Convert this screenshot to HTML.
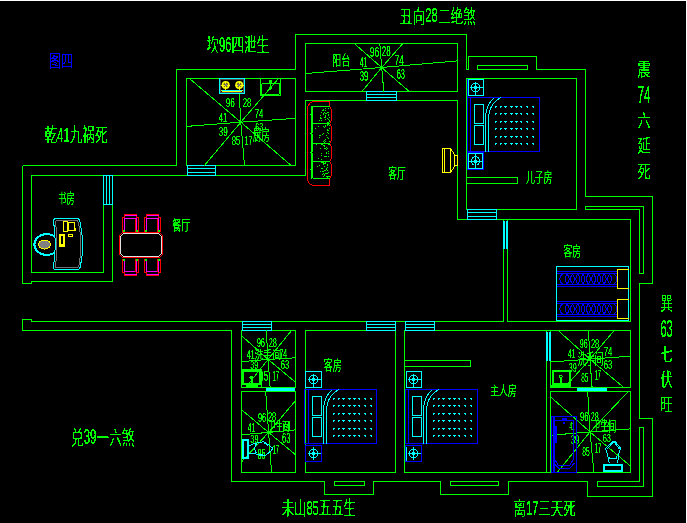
<!DOCTYPE html>
<html lang="zh"><head><meta charset="utf-8"><title>图四</title>
<style>
html,body{margin:0;padding:0;background:#000;overflow:hidden}
svg{display:block;font-family:"Liberation Sans","Noto Sans CJK SC",sans-serif}
</style></head><body>
<svg width="687" height="523" viewBox="0 0 687 523" shape-rendering="crispEdges">
<defs><filter id="th" x="0" y="0" width="687" height="523" filterUnits="userSpaceOnUse" color-interpolation-filters="sRGB"><feComponentTransfer><feFuncA type="discrete" tableValues="0 0 1 1 1 1"/></feComponentTransfer></filter><filter id="th2" x="0" y="0" width="687" height="523" filterUnits="userSpaceOnUse" color-interpolation-filters="sRGB"><feComponentTransfer><feFuncA type="table" tableValues="0 0.1 1 1 1"/></feComponentTransfer></filter></defs>
<rect x="0" y="0" width="687" height="523" fill="#000"/>
<rect x="0" y="0" width="687" height="1" fill="#fff"/>
<rect x="686" y="0" width="1" height="523" fill="#fff"/>
<g id="walls">
<path d="M22.5 165.5 L176.5 165.5 L176.5 69.5 L295.5 69.5" stroke="#00ff00" stroke-width="1" fill="none" />
<path d="M295.5 69.5 L295.5 34.5 L466.5 34.5 L466.5 69.5 L468.5 69.5 L468.5 56.5 L536.5 56.5 L536.5 69.5 L585.5 69.5 L585.5 196.5 L652.5 196.5 L652.5 283.5 L639.5 283.5 L639.5 418.5 L652.5 418.5 L652.5 496.5 L587.5 496.5 L587.5 481.5 L508.5 481.5 L508.5 494.5 L440.5 494.5 L440.5 481.5 L373.5 481.5 L373.5 494.5 L324.5 494.5 L324.5 481.5 L231.5 481.5 L231.5 330.5 L22.5 330.5 L22.5 319.5 L31.5 319.5 L31.5 321.5 L503.5 321.5 L503.5 219.5" stroke="#00ff00" stroke-width="1" fill="none" />
<path d="M22.5 165.5 L22.5 283.5 L31.5 283.5 L31.5 281.5 L112.5 281.5 L112.5 175.5" stroke="#00ff00" stroke-width="1" fill="none" />
<path d="M630.5 321.5 L630.5 219.5 L457.5 219.5 L457.5 100.5 L305.5 100.5 L305.5 175.5 L31.5 175.5 L31.5 272.5 L103.5 272.5 L103.5 175.5" stroke="#00ff00" stroke-width="1" fill="none" />
<rect x="186.5" y="78.5" width="109" height="87" stroke="#00ff00" stroke-width="1" fill="none"/>
<rect x="305.5" y="43.5" width="152" height="48" stroke="#00ff00" stroke-width="1" fill="none"/>
<rect x="466.5" y="78.5" width="110" height="131" stroke="#00ff00" stroke-width="1" fill="none"/>
<rect x="477.5" y="65.5" width="50" height="4" stroke="#00ff00" stroke-width="1" fill="none"/>
<rect x="466.5" y="177.5" width="51" height="6" stroke="#00ff00" stroke-width="1" fill="none"/>
<path d="M507.5 219.5 L507.5 321.5 L630.5 321.5" stroke="#00ff00" stroke-width="1" fill="none" />
<path d="M585.5 206.5 L643.5 206.5 L643.5 273.5 L639.5 273.5 L639.5 209.5 L585.5 209.5 Z" stroke="#00ff00" stroke-width="1" fill="none" />
<path d="M639.5 427.5 L643.5 427.5 L643.5 486.5 L597.5 486.5 L597.5 481.5 L639.5 481.5 Z" stroke="#00ff00" stroke-width="1" fill="none" />
<rect x="241.5" y="330.5" width="54" height="57" stroke="#00ff00" stroke-width="1" fill="none"/>
<rect x="241.5" y="391.5" width="54" height="81" stroke="#00ff00" stroke-width="1" fill="none"/>
<rect x="305.5" y="330.5" width="90" height="142" stroke="#00ff00" stroke-width="1" fill="none"/>
<path d="M630.5 330.5 L404.5 330.5 L404.5 472.5 L630.5 472.5" stroke="#00ff00" stroke-width="1" fill="none" />
<line x1="546.5" y1="330.5" x2="546.5" y2="472.5" stroke="#00ff00" stroke-width="1"/>
<rect x="550.5" y="330.5" width="80" height="57" stroke="#00ff00" stroke-width="1" fill="none"/>
<rect x="550.5" y="391.5" width="80" height="81" stroke="#00ff00" stroke-width="1" fill="none"/>
<rect x="404.5" y="360.5" width="66" height="6" stroke="#00ff00" stroke-width="1" fill="none"/>
<rect x="334.5" y="481.5" width="30" height="4" stroke="#00ff00" stroke-width="1" fill="none"/>
<rect x="450.5" y="481.5" width="48" height="4" stroke="#00ff00" stroke-width="1" fill="none"/>
</g>
<g id="windows">
<rect x="187.5" y="165.5" width="28" height="10" stroke="#00ffff" stroke-width="1" fill="none"/>
<line x1="187.5" y1="168.5" x2="215.5" y2="168.5" stroke="#00ffff" stroke-width="1"/>
<line x1="187.5" y1="172.5" x2="215.5" y2="172.5" stroke="#00ffff" stroke-width="1"/>
<rect x="366.5" y="91.5" width="30" height="9" stroke="#00ffff" stroke-width="1" fill="none"/>
<line x1="366.5" y1="94.5" x2="396.5" y2="94.5" stroke="#00ffff" stroke-width="1"/>
<line x1="366.5" y1="97.5" x2="396.5" y2="97.5" stroke="#00ffff" stroke-width="1"/>
<rect x="103.5" y="175.5" width="9" height="29" stroke="#00ffff" stroke-width="1" fill="none"/>
<line x1="106.5" y1="175.5" x2="106.5" y2="204.5" stroke="#00ffff" stroke-width="1"/>
<line x1="109.5" y1="175.5" x2="109.5" y2="204.5" stroke="#00ffff" stroke-width="1"/>
<rect x="467.5" y="209.5" width="29" height="10" stroke="#00ffff" stroke-width="1" fill="none"/>
<line x1="467.5" y1="212.5" x2="496.5" y2="212.5" stroke="#00ffff" stroke-width="1"/>
<line x1="467.5" y1="216.5" x2="496.5" y2="216.5" stroke="#00ffff" stroke-width="1"/>
<line x1="503.5" y1="220.5" x2="503.5" y2="248.5" stroke="#00ffff" stroke-width="1"/>
<line x1="504.5" y1="220.5" x2="504.5" y2="248.5" stroke="#00ffff" stroke-width="1"/>
<line x1="506.5" y1="220.5" x2="506.5" y2="248.5" stroke="#00ffff" stroke-width="1"/>
<line x1="507.5" y1="220.5" x2="507.5" y2="248.5" stroke="#00ffff" stroke-width="1"/>
<rect x="242.5" y="321.5" width="29" height="9" stroke="#00ffff" stroke-width="1" fill="none"/>
<line x1="242.5" y1="324.5" x2="271.5" y2="324.5" stroke="#00ffff" stroke-width="1"/>
<line x1="242.5" y1="327.5" x2="271.5" y2="327.5" stroke="#00ffff" stroke-width="1"/>
<rect x="366.5" y="321.5" width="29" height="9" stroke="#00ffff" stroke-width="1" fill="none"/>
<line x1="366.5" y1="324.5" x2="395.5" y2="324.5" stroke="#00ffff" stroke-width="1"/>
<line x1="366.5" y1="327.5" x2="395.5" y2="327.5" stroke="#00ffff" stroke-width="1"/>
<rect x="405.5" y="321.5" width="29" height="9" stroke="#00ffff" stroke-width="1" fill="none"/>
<line x1="405.5" y1="324.5" x2="434.5" y2="324.5" stroke="#00ffff" stroke-width="1"/>
<line x1="405.5" y1="327.5" x2="434.5" y2="327.5" stroke="#00ffff" stroke-width="1"/>
<line x1="546.5" y1="331.5" x2="546.5" y2="360.5" stroke="#00ffff" stroke-width="1"/>
<line x1="547.5" y1="331.5" x2="547.5" y2="360.5" stroke="#00ffff" stroke-width="1"/>
<line x1="549.5" y1="331.5" x2="549.5" y2="360.5" stroke="#00ffff" stroke-width="1"/>
<line x1="550.5" y1="331.5" x2="550.5" y2="360.5" stroke="#00ffff" stroke-width="1"/>
<rect x="266.5" y="388.5" width="28" height="2" stroke="#00ffff" stroke-width="1" fill="#00ffff"/>
<rect x="577.5" y="388.5" width="29" height="2" stroke="#00ffff" stroke-width="1" fill="#00ffff"/>
</g>
<g id="compass">
<line x1="240.8" y1="122.2" x2="189.5" y2="78.5" stroke="#00ff00" stroke-width="1"/>
<line x1="240.8" y1="122.2" x2="239.2" y2="94" stroke="#00ff00" stroke-width="1"/>
<line x1="240.8" y1="122.2" x2="278.5" y2="78.5" stroke="#00ff00" stroke-width="1"/>
<line x1="240.8" y1="122.2" x2="295.5" y2="118.3" stroke="#00ff00" stroke-width="1"/>
<line x1="240.8" y1="122.2" x2="291.2" y2="165.5" stroke="#00ff00" stroke-width="1"/>
<line x1="240.8" y1="122.2" x2="244.5" y2="165.5" stroke="#00ff00" stroke-width="1"/>
<line x1="240.8" y1="122.2" x2="204.4" y2="165.5" stroke="#00ff00" stroke-width="1"/>
<line x1="240.8" y1="122.2" x2="186.5" y2="126.4" stroke="#00ff00" stroke-width="1"/>
<line x1="381.7" y1="67.5" x2="354.2" y2="43.5" stroke="#00ff00" stroke-width="1"/>
<line x1="381.7" y1="67.5" x2="379.8" y2="43.5" stroke="#00ff00" stroke-width="1"/>
<line x1="381.7" y1="67.5" x2="402.9" y2="43.5" stroke="#00ff00" stroke-width="1"/>
<line x1="381.7" y1="67.5" x2="457.5" y2="60.9" stroke="#00ff00" stroke-width="1"/>
<line x1="381.7" y1="67.5" x2="409.2" y2="91.5" stroke="#00ff00" stroke-width="1"/>
<line x1="381.7" y1="67.5" x2="383.8" y2="91.5" stroke="#00ff00" stroke-width="1"/>
<line x1="381.7" y1="67.5" x2="362" y2="91.5" stroke="#00ff00" stroke-width="1"/>
<line x1="381.7" y1="67.5" x2="305.5" y2="73.5" stroke="#00ff00" stroke-width="1"/>
<line x1="268.1" y1="359.4" x2="241.5" y2="335.6" stroke="#00ff00" stroke-width="1"/>
<line x1="268.1" y1="359.4" x2="266.2" y2="330.5" stroke="#00ff00" stroke-width="1"/>
<line x1="268.1" y1="359.4" x2="291.5" y2="330.5" stroke="#00ff00" stroke-width="1"/>
<line x1="268.1" y1="359.4" x2="295.5" y2="357.8" stroke="#00ff00" stroke-width="1"/>
<line x1="268.1" y1="359.4" x2="295.5" y2="382.3" stroke="#00ff00" stroke-width="1"/>
<line x1="268.1" y1="359.4" x2="270.1" y2="387.5" stroke="#00ff00" stroke-width="1"/>
<line x1="268.1" y1="359.4" x2="245.6" y2="387.5" stroke="#00ff00" stroke-width="1"/>
<line x1="268.1" y1="359.4" x2="241.5" y2="361.7" stroke="#00ff00" stroke-width="1"/>
<line x1="268.6" y1="432.4" x2="241.5" y2="409.8" stroke="#00ff00" stroke-width="1"/>
<line x1="268.6" y1="432.4" x2="265.7" y2="391.5" stroke="#00ff00" stroke-width="1"/>
<line x1="268.6" y1="432.4" x2="295.5" y2="400.6" stroke="#00ff00" stroke-width="1"/>
<line x1="268.6" y1="432.4" x2="295.5" y2="429.9" stroke="#00ff00" stroke-width="1"/>
<line x1="268.6" y1="432.4" x2="295.5" y2="454.8" stroke="#00ff00" stroke-width="1"/>
<line x1="268.6" y1="432.4" x2="271.6" y2="472.5" stroke="#00ff00" stroke-width="1"/>
<line x1="268.6" y1="432.4" x2="241.5" y2="461.9" stroke="#00ff00" stroke-width="1"/>
<line x1="268.6" y1="432.4" x2="241.5" y2="434.7" stroke="#00ff00" stroke-width="1"/>
<line x1="589.9" y1="359.1" x2="558.2" y2="330.5" stroke="#00ff00" stroke-width="1"/>
<line x1="589.9" y1="359.1" x2="588.5" y2="330.5" stroke="#00ff00" stroke-width="1"/>
<line x1="589.9" y1="359.1" x2="614.2" y2="330.5" stroke="#00ff00" stroke-width="1"/>
<line x1="589.9" y1="359.1" x2="630.5" y2="356.2" stroke="#00ff00" stroke-width="1"/>
<line x1="589.9" y1="359.1" x2="623.7" y2="387.5" stroke="#00ff00" stroke-width="1"/>
<line x1="589.9" y1="359.1" x2="592.1" y2="387.5" stroke="#00ff00" stroke-width="1"/>
<line x1="589.9" y1="359.1" x2="564.7" y2="387.5" stroke="#00ff00" stroke-width="1"/>
<line x1="589.9" y1="359.1" x2="550.5" y2="362" stroke="#00ff00" stroke-width="1"/>
<line x1="590" y1="431.9" x2="551" y2="397.2" stroke="#00ff00" stroke-width="1"/>
<line x1="590" y1="431.9" x2="587.7" y2="391.5" stroke="#00ff00" stroke-width="1"/>
<line x1="590" y1="431.9" x2="628.3" y2="391.5" stroke="#00ff00" stroke-width="1"/>
<line x1="590" y1="431.9" x2="630.5" y2="428.9" stroke="#00ff00" stroke-width="1"/>
<line x1="590" y1="431.9" x2="630.5" y2="466.1" stroke="#00ff00" stroke-width="1"/>
<line x1="590" y1="431.9" x2="593.9" y2="472.5" stroke="#00ff00" stroke-width="1"/>
<line x1="590" y1="431.9" x2="557.2" y2="472.5" stroke="#00ff00" stroke-width="1"/>
<line x1="590" y1="431.9" x2="550.5" y2="435.3" stroke="#00ff00" stroke-width="1"/>
</g>
<g id="nums" filter="url(#th2)">
<text transform="translate(225.7 107) scale(0.6820 1.0880)" font-size="12" fill="#00ff00">96</text>
<text transform="translate(242.7 107) scale(0.6445 1.0880)" font-size="12" fill="#00ff00">28</text>
<text transform="translate(218.7 121.6) scale(0.6445 1.1111)" font-size="12" fill="#00ff00">41</text>
<text transform="translate(254.7 118) scale(0.6445 1.0995)" font-size="12" fill="#00ff00">74</text>
<text transform="translate(218.7 136) scale(0.6820 1.0880)" font-size="12" fill="#00ff00">39</text>
<text transform="translate(255.3 131.4) scale(0.5995 0.9722)" font-size="12" fill="#00ff00">63</text>
<text transform="translate(231.7 144.5) scale(0.6445 1.1343)" font-size="12" fill="#00ff00">85</text>
<text transform="translate(244.7 144.5) scale(0.5695 1.1343)" font-size="12" fill="#00ff00">17</text>
<text transform="translate(369.7 57) scale(0.7194 1.1574)" font-size="12" fill="#00ff00">96</text>
<text transform="translate(381.7 56) scale(0.6670 1.1574)" font-size="12" fill="#00ff00">28</text>
<text transform="translate(359.7 66.7) scale(0.5695 1.2384)" font-size="12" fill="#00ff00">41</text>
<text transform="translate(394.7 64.6) scale(0.6745 1.2269)" font-size="12" fill="#00ff00">74</text>
<text transform="translate(359.7 81) scale(0.6445 1.2037)" font-size="12" fill="#00ff00">39</text>
<text transform="translate(396.7 79.3) scale(0.6220 1.2153)" font-size="12" fill="#00ff00">63</text>
<text transform="translate(256.7 347.4) scale(0.6220 1.0069)" font-size="12" fill="#00ff00">96</text>
<text transform="translate(268.7 347.4) scale(0.6145 1.0069)" font-size="12" fill="#00ff00">28</text>
<text transform="translate(246.7 358.6) scale(0.5920 1.0648)" font-size="12" fill="#00ff00">41</text>
<text transform="translate(279.4 358) scale(0.5845 1.0417)" font-size="12" fill="#00ff00">74</text>
<text transform="translate(250.3 369.3) scale(0.5845 0.8796)" font-size="12" fill="#00ff00">39</text>
<text transform="translate(280.7 368.5) scale(0.6370 1.0532)" font-size="12" fill="#00ff00">63</text>
<text transform="translate(259.1 380.8) scale(0.6894 1.1574)" font-size="12" fill="#00ff00">85</text>
<text transform="translate(272.5 380.8) scale(0.4721 1.1574)" font-size="12" fill="#00ff00">17</text>
<text transform="translate(257.9 422.2) scale(0.6220 0.9954)" font-size="12" fill="#00ff00">96</text>
<text transform="translate(267.9 421.3) scale(0.6145 0.9954)" font-size="12" fill="#00ff00">28</text>
<text transform="translate(247.8 432.4) scale(0.5471 1.0648)" font-size="12" fill="#00ff00">41</text>
<text transform="translate(282.2 430) scale(0.6220 1.0069)" font-size="12" fill="#00ff00">74</text>
<text transform="translate(250.3 442.7) scale(0.6145 0.8912)" font-size="12" fill="#00ff00">39</text>
<text transform="translate(281.9 443.3) scale(0.6445 1.1806)" font-size="12" fill="#00ff00">63</text>
<text transform="translate(257.4 459.2) scale(0.6145 1.1806)" font-size="12" fill="#00ff00">85</text>
<text transform="translate(272.7 453.8) scale(0.4721 1.1111)" font-size="12" fill="#00ff00">17</text>
<text transform="translate(579.7 347.5) scale(0.5920 1.0185)" font-size="12" fill="#00ff00">96</text>
<text transform="translate(590.9 347.5) scale(0.6295 1.0185)" font-size="12" fill="#00ff00">28</text>
<text transform="translate(568.1 358.1) scale(0.5396 1.0069)" font-size="12" fill="#00ff00">41</text>
<text transform="translate(603.7 356.2) scale(0.6445 1.0995)" font-size="12" fill="#00ff00">74</text>
<text transform="translate(568.7 372.2) scale(0.5995 1.0069)" font-size="12" fill="#00ff00">39</text>
<text transform="translate(603.7 369.3) scale(0.6445 1.1227)" font-size="12" fill="#00ff00">63</text>
<text transform="translate(581.2 382.4) scale(0.5321 1.1227)" font-size="12" fill="#00ff00">85</text>
<text transform="translate(594.7 379.5) scale(0.4496 1.1806)" font-size="12" fill="#00ff00">17</text>
<text transform="translate(579.9 420.9) scale(0.6445 1.0648)" font-size="12" fill="#00ff00">96</text>
<text transform="translate(590.7 420.9) scale(0.6070 1.0648)" font-size="12" fill="#00ff00">28</text>
<text transform="translate(569.5 430) scale(0.3897 0.9259)" font-size="12" fill="#00ff00">41</text>
<text transform="translate(602.7 429) scale(0.6445 1.0417)" font-size="12" fill="#00ff00">74</text>
<text transform="translate(602.7 441.5) scale(0.6220 0.8681)" font-size="12" fill="#00ff00">63</text>
<text transform="translate(570.7 443.8) scale(0.6445 1.0648)" font-size="12" fill="#00ff00">39</text>
<text transform="translate(582.2 456.4) scale(0.5546 1.0648)" font-size="12" fill="#00ff00">85</text>
<text transform="translate(594.7 453) scale(0.4796 1.1574)" font-size="12" fill="#00ff00">17</text>
</g>
<g id="labels" filter="url(#th)">
<text transform="translate(49.12 66.78) scale(0.7526 1.0870)" font-size="16" fill="#0000ff" font-weight="350">图四</text>
<text transform="translate(206.50 52.43) scale(0.7816 1.2228)" font-size="16" fill="#00ff00" font-weight="350">坎</text>
<text transform="translate(219.00 52.36) scale(0.7028 1.3500)" font-size="16" fill="#00ff00" font-weight="350">96</text>
<text transform="translate(231.51 52.43) scale(0.7816 1.2228)" font-size="16" fill="#00ff00" font-weight="350">四泄生</text>
<text transform="translate(399.79 22.52) scale(0.7942 1.1413)" font-size="16" fill="#00ff00" font-weight="350">丑向</text>
<text transform="translate(425.21 22.46) scale(0.7142 1.2600)" font-size="16" fill="#00ff00" font-weight="350">28</text>
<text transform="translate(437.91 22.52) scale(0.7942 1.1413)" font-size="16" fill="#00ff00" font-weight="350">二绝煞</text>
<text transform="translate(44.49 142.17) scale(0.7892 1.1889)" font-size="16" fill="#00ff00" font-weight="350">乾</text>
<text transform="translate(57.12 142.10) scale(0.7097 1.3125)" font-size="16" fill="#00ff00" font-weight="350">41</text>
<text transform="translate(69.75 142.17) scale(0.7892 1.1889)" font-size="16" fill="#00ff00" font-weight="350">九祸死</text>
<text transform="translate(70.89 444.52) scale(0.7968 1.2296)" font-size="16" fill="#00ff00" font-weight="350">兑</text>
<text transform="translate(83.64 444.45) scale(0.7166 1.3575)" font-size="16" fill="#00ff00" font-weight="350">39</text>
<text transform="translate(96.39 444.52) scale(0.7968 1.2296)" font-size="16" fill="#00ff00" font-weight="350">一六煞</text>
<text transform="translate(281.71 515.37) scale(0.7731 1.1889)" font-size="16" fill="#00ff00" font-weight="350">未山</text>
<text transform="translate(306.44 515.30) scale(0.6952 1.3125)" font-size="16" fill="#00ff00" font-weight="350">85</text>
<text transform="translate(318.81 515.37) scale(0.7731 1.1889)" font-size="16" fill="#00ff00" font-weight="350">五五生</text>
<text transform="translate(513.50 514.71) scale(0.7765 1.1549)" font-size="16" fill="#00ff00" font-weight="350">离</text>
<text transform="translate(525.93 514.64) scale(0.6983 1.2750)" font-size="16" fill="#00ff00" font-weight="350">17</text>
<text transform="translate(538.35 514.71) scale(0.7765 1.1549)" font-size="16" fill="#00ff00" font-weight="350">三天死</text>
<text transform="translate(637.47 76.21) scale(0.8242 1.1549)" font-size="16" fill="#00ff00" font-weight="350">震</text>
<text transform="translate(637.47 103.00) scale(0.7412 1.5179)" font-size="16" fill="#00ff00" font-weight="350">74</text>
<text transform="translate(637.47 126.71) scale(0.8242 1.1549)" font-size="16" fill="#00ff00" font-weight="350">六</text>
<text transform="translate(637.47 151.71) scale(0.8242 1.1549)" font-size="16" fill="#00ff00" font-weight="350">延</text>
<text transform="translate(637.47 177.71) scale(0.8242 1.1549)" font-size="16" fill="#00ff00" font-weight="350">死</text>
<text transform="translate(660.52 310.21) scale(0.7555 1.1549)" font-size="16" fill="#00ff00" font-weight="350">巽</text>
<text transform="translate(660.52 336.50) scale(0.6794 1.5179)" font-size="16" fill="#00ff00" font-weight="350">63</text>
<text transform="translate(660.52 360.71) scale(0.7555 1.1549)" font-size="16" fill="#00ff00" font-weight="350">七</text>
<text transform="translate(660.52 385.71) scale(0.7555 1.1549)" font-size="16" fill="#00ff00" font-weight="350">伏</text>
<text transform="translate(660.52 411.21) scale(0.7555 1.1549)" font-size="16" fill="#00ff00" font-weight="350">旺</text>
</g><g id="labels2" filter="url(#th2)">
<text transform="translate(332.34 65.06) scale(0.7417 1.1232)" font-size="12" fill="#00ff00" font-weight="400">阳台</text>
<text transform="translate(388.25 177.61) scale(0.7286 1.1775)" font-size="12" fill="#00ff00" font-weight="400">客厅</text>
<text transform="translate(171.93 230.23) scale(0.7810 1.1594)" font-size="12" fill="#00ff00" font-weight="400">餐厅</text>
<text transform="translate(58.37 203.01) scale(0.6806 1.1775)" font-size="12" fill="#00ff00" font-weight="400">书房</text>
<text transform="translate(525.95 182.06) scale(0.7360 1.1232)" font-size="12" fill="#00ff00" font-weight="400">儿子房</text>
<text transform="translate(563.45 255.75) scale(0.7330 1.1322)" font-size="12" fill="#00ff00" font-weight="400">客房</text>
<text transform="translate(323.64 370.04) scale(0.7548 1.1413)" font-size="12" fill="#00ff00" font-weight="400">客房</text>
<text transform="translate(490.15 394.89) scale(0.7388 1.0870)" font-size="12" fill="#00ff00" font-weight="400">主人房</text>
<text transform="translate(253.07 140.17) scale(0.6937 1.2228)" font-size="12" fill="#00ff00" font-weight="400">厨房</text>
<text transform="translate(254.44 358.64) scale(0.7446 0.9058)" font-size="12" fill="#00ff00" font-weight="400">洗手间</text>
<text transform="translate(268.82 430.93) scale(0.5756 1.0417)" font-size="12" fill="#00ff00" font-weight="400">卫生间</text>
<text transform="translate(577.76 364.00) scale(0.7102 1.1957)" font-size="12" fill="#00ff00" font-weight="400">洗手间</text>
<text transform="translate(592.49 431.34) scale(0.6558 1.1413)" font-size="12" fill="#00ff00" font-weight="400">卫生间</text>
</g>
<g id="furniture">
<rect x="219.5" y="78.5" width="25" height="15" stroke="#00ffff" stroke-width="1" fill="none"/>
<rect x="220.5" y="79.5" width="23" height="13" stroke="#505050" stroke-width="1" fill="none"/>
<circle cx="225.7" cy="85" r="3.2" stroke="#ffff00" stroke-width="1.6" fill="#6a6a30" shape-rendering="auto"/>
<line x1="221.2" y1="85" x2="230.2" y2="85" stroke="#ffff00" stroke-width="1"/>
<line x1="225.7" y1="80.5" x2="225.7" y2="89.5" stroke="#ffff00" stroke-width="1"/>
<rect x="224.7" y="84" width="2" height="2" fill="#777"/>
<circle cx="239.2" cy="85" r="3.2" stroke="#ffff00" stroke-width="1.6" fill="#6a6a30" shape-rendering="auto"/>
<line x1="234.7" y1="85" x2="243.7" y2="85" stroke="#ffff00" stroke-width="1"/>
<line x1="239.2" y1="80.5" x2="239.2" y2="89.5" stroke="#ffff00" stroke-width="1"/>
<rect x="238.2" y="84" width="2" height="2" fill="#777"/>
<line x1="221" y1="90.5" x2="243" y2="90.5" stroke="#00ffff" stroke-width="1"/>
<path d="M221.5 90.5 L222.5 91.5 L241.5 91.5 L242.5 90.5" stroke="#ffff00" stroke-width="1" fill="none" />
<rect x="260.5" y="78.5" width="20" height="17" stroke="#00ff00" stroke-width="1" fill="none"/>
<rect x="261.5" y="83.5" width="18" height="11" rx="1.5" stroke="#00ff00" fill="none"/>
<line x1="270.5" y1="80" x2="270.5" y2="89" stroke="#00ff00" stroke-width="1"/>
<circle cx="270.5" cy="81.5" r="1.3" stroke="#00ff00" stroke-width="1" fill="none"/>
<circle cx="270.5" cy="88" r="1.3" stroke="#00ff00" stroke-width="1" fill="none"/>
<path d="M330 101.5 H315.5 Q307.5 101.5 307.5 109.5 V177.5 Q307.5 185.5 315.5 185.5 H330" stroke="#ff0000" fill="none"/>
<path d="M329.5 101.5 L329.5 106.5 Q332.5 109.5 331.5 115 Q332.5 120.5 329.5 123.5 Q332.5 126.5 331.5 133.5 Q332.5 140.5 329.5 143.5 Q332.5 146.5 331.5 152.5 Q332.5 158.5 329.5 161.5 Q332.5 164.5 331.5 170 Q332.5 175.5 329.5 178.5 L329.5 185.5" stroke="#ff0000" fill="none"/>
<line x1="312.5" y1="106.5" x2="329.5" y2="106.5" stroke="#00ff00" stroke-width="1"/>
<path d="M312.5 106.5 Q310.5 115 312.5 123.5" stroke="#00ff00" stroke-width="2" fill="none"/>
<line x1="312.5" y1="123.5" x2="329.5" y2="123.5" stroke="#00ff00" stroke-width="1"/>
<path d="M312.5 123.5 Q310.5 133.5 312.5 143.5" stroke="#00ff00" stroke-width="2" fill="none"/>
<line x1="312.5" y1="143.5" x2="329.5" y2="143.5" stroke="#00ff00" stroke-width="1"/>
<path d="M312.5 143.5 Q310.5 152.5 312.5 161.5" stroke="#00ff00" stroke-width="2" fill="none"/>
<line x1="312.5" y1="161.5" x2="329.5" y2="161.5" stroke="#00ff00" stroke-width="1"/>
<path d="M312.5 161.5 Q310.5 170 312.5 178.5" stroke="#00ff00" stroke-width="2" fill="none"/>
<line x1="312.5" y1="178.5" x2="329.5" y2="178.5" stroke="#00ff00" stroke-width="1"/>
<path d="M328 153h1v1h-1z M326 113h1v1h-1z M324 112h1v1h-1z M328 143h1v1h-1z M323 113h1v1h-1z M328 114h1v1h-1z M320 117h1v1h-1z M324 123h1v1h-1z M320 148h1v1h-1z M319 135h1v1h-1z M327 167h1v1h-1z M329 128h1v1h-1z M327 129h1v1h-1z M327 164h1v1h-1z M326 152h1v1h-1z M322 134h1v1h-1z M327 112h1v1h-1z M328 122h1v1h-1z M327 130h1v1h-1z M324 148h1v1h-1z M325 163h1v1h-1z M328 156h1v1h-1z M329 144h1v1h-1z M322 168h1v1h-1z M328 176h1v1h-1z M325 116h1v1h-1z M321 118h1v1h-1z M324 142h1v1h-1z M321 161h1v1h-1z M327 148h1v1h-1z M326 156h1v1h-1z M326 149h1v1h-1z M324 166h1v1h-1z M326 173h1v1h-1z M321 112h1v1h-1z M328 156h1v1h-1z M319 165h1v1h-1z M315 128h1v1h-1z M323 110h1v1h-1z M324 140h1v1h-1z M328 112h1v1h-1z M327 161h1v1h-1z M326 135h1v1h-1z M326 168h1v1h-1z M324 146h1v1h-1z M326 169h1v1h-1z M324 127h1v1h-1z M319 137h1v1h-1z M322 174h1v1h-1z M320 118h1v1h-1z M327 124h1v1h-1z M325 141h1v1h-1z M325 108h1v1h-1z M327 137h1v1h-1z M324 174h1v1h-1z M324 156h1v1h-1z M321 155h1v1h-1z M328 112h1v1h-1z M321 168h1v1h-1z M323 163h1v1h-1z M325 115h1v1h-1z M326 152h1v1h-1z M327 122h1v1h-1z M328 119h1v1h-1z M328 108h1v1h-1z M327 118h1v1h-1z M325 110h1v1h-1z M326 168h1v1h-1z M327 125h1v1h-1z M327 132h1v1h-1z M327 167h1v1h-1z M327 177h1v1h-1z M323 114h1v1h-1z M328 115h1v1h-1z M327 165h1v1h-1z M325 119h1v1h-1z M316 144h1v1h-1z M327 118h1v1h-1z M328 144h1v1h-1z M329 176h1v1h-1z M323 126h1v1h-1z M323 133h1v1h-1z M324 145h1v1h-1z M321 162h1v1h-1z M327 164h1v1h-1z M326 176h1v1h-1z M323 164h1v1h-1z M321 159h1v1h-1z M328 133h1v1h-1z M322 110h1v1h-1z M325 126h1v1h-1z M328 156h1v1h-1z M323 173h1v1h-1z M327 176h1v1h-1z M324 123h1v1h-1z M328 124h1v1h-1z M328 151h1v1h-1z M325 170h1v1h-1z M326 153h1v1h-1z M324 163h1v1h-1z M322 171h1v1h-1z M325 162h1v1h-1z M329 120h1v1h-1z M323 162h1v1h-1z M324 175h1v1h-1z M320 135h1v1h-1z M318 158h1v1h-1z M321 120h1v1h-1z M327 170h1v1h-1z M327 164h1v1h-1z M323 176h1v1h-1z M321 153h1v1h-1z M325 117h1v1h-1z M323 109h1v1h-1z M321 144h1v1h-1z M328 172h1v1h-1z M319 165h1v1h-1z M324 123h1v1h-1z M329 125h1v1h-1z M324 148h1v1h-1z M329 117h1v1h-1z M323 171h1v1h-1z M325 148h1v1h-1z M324 170h1v1h-1z M318 143h1v1h-1z M323 145h1v1h-1z M328 138h1v1h-1z M329 121h1v1h-1z M319 120h1v1h-1z M329 141h1v1h-1z M328 130h1v1h-1z M322 144h1v1h-1z M320 115h1v1h-1z M326 147h1v1h-1z M329 161h1v1h-1z M325 143h1v1h-1z M320 171h1v1h-1z M325 139h1v1h-1z M324 143h1v1h-1z M325 156h1v1h-1z M323 141h1v1h-1z M327 173h1v1h-1z M325 173h1v1h-1z M318 126h1v1h-1z M317 166h1v1h-1z M324 117h1v1h-1z M325 113h1v1h-1z M325 125h1v1h-1z M322 162h1v1h-1z M325 170h1v1h-1z" fill="#00ff00" stroke="none"/>
<rect x="442.5" y="148.5" width="8" height="24" stroke="#ffff00" stroke-width="1" fill="none"/>
<line x1="444.5" y1="148.5" x2="444.5" y2="172.5" stroke="#ffff00" stroke-width="1"/>
<path d="M450.5 148.5 L454.5 154.5 L454.5 166.5 L450.5 172.5" stroke="#ffff00" stroke-width="1" fill="none" />
<rect x="454.5" y="155.5" width="3" height="10" stroke="#ffff00" stroke-width="1" fill="none"/>
<path d="M122.5 232.5 L159.5 232.5 L162.5 235.5 L162.5 254.5 L159.5 257.5 L122.5 257.5 L119.5 254.5 L119.5 235.5 Z" stroke="#ff0000" stroke-width="1" fill="none" />
<path d="M123.5 233.5 L158.5 233.5 L161.5 236.5 L161.5 253.5 L158.5 256.5 L123.5 256.5 L120.5 253.5 L120.5 236.5 Z" stroke="#e0e0e0" stroke-width="1" fill="none" />
<path d="M122.5 231.5 L122.5 217.5 L124.5 217.5 L124.5 214.5 L136.5 214.5 L136.5 217.5 L138.5 217.5 L138.5 231.5" stroke="#ff0000" stroke-width="1" fill="none" />
<path d="M124.5 231.5 L124.5 218.5 L136.5 218.5 L136.5 231.5" stroke="#ff00ff" stroke-width="1" fill="none" />
<line x1="124.5" y1="215.5" x2="136.5" y2="215.5" stroke="#ff00ff" stroke-width="1"/>
<path d="M135.5 231.5 L135.5 218.5" stroke="#ff0000" stroke-width="1" fill="none" />
<rect x="123" y="229.5" width="2" height="2" fill="#00ff00"/>
<rect x="136" y="229.5" width="2" height="2" fill="#00ff00"/>
<path d="M144.5 231.5 L144.5 217.5 L146.5 217.5 L146.5 214.5 L158.5 214.5 L158.5 217.5 L160.5 217.5 L160.5 231.5" stroke="#ff0000" stroke-width="1" fill="none" />
<path d="M146.5 231.5 L146.5 218.5 L158.5 218.5 L158.5 231.5" stroke="#ff00ff" stroke-width="1" fill="none" />
<line x1="146.5" y1="215.5" x2="158.5" y2="215.5" stroke="#ff00ff" stroke-width="1"/>
<path d="M157.5 231.5 L157.5 218.5" stroke="#ff0000" stroke-width="1" fill="none" />
<rect x="145" y="229.5" width="2" height="2" fill="#00ff00"/>
<rect x="158" y="229.5" width="2" height="2" fill="#00ff00"/>
<path d="M122.5 258.5 L122.5 272.5 L124.5 272.5 L124.5 275.5 L136.5 275.5 L136.5 272.5 L138.5 272.5 L138.5 258.5" stroke="#ff0000" stroke-width="1" fill="none" />
<path d="M124.5 258.5 L124.5 271.5 L136.5 271.5 L136.5 258.5" stroke="#ff00ff" stroke-width="1" fill="none" />
<line x1="124.5" y1="274.5" x2="136.5" y2="274.5" stroke="#ff00ff" stroke-width="1"/>
<path d="M135.5 258.5 L135.5 271.5" stroke="#ff0000" stroke-width="1" fill="none" />
<rect x="123" y="258.5" width="2" height="2" fill="#00ff00"/>
<rect x="136" y="258.5" width="2" height="2" fill="#00ff00"/>
<path d="M144.5 258.5 L144.5 272.5 L146.5 272.5 L146.5 275.5 L158.5 275.5 L158.5 272.5 L160.5 272.5 L160.5 258.5" stroke="#ff0000" stroke-width="1" fill="none" />
<path d="M146.5 258.5 L146.5 271.5 L158.5 271.5 L158.5 258.5" stroke="#ff00ff" stroke-width="1" fill="none" />
<line x1="146.5" y1="274.5" x2="158.5" y2="274.5" stroke="#ff00ff" stroke-width="1"/>
<path d="M157.5 258.5 L157.5 271.5" stroke="#ff0000" stroke-width="1" fill="none" />
<rect x="145" y="258.5" width="2" height="2" fill="#00ff00"/>
<rect x="158" y="258.5" width="2" height="2" fill="#00ff00"/>
<path d="M53.5 221 Q53.5 218.5 56 218.5 H77 Q79.5 218.5 80 222 Q85 244 80.5 266 Q80 269.5 77 269.5 H56 Q53.5 269.5 53.5 267 Q57 244 53.5 221 Z" stroke="#00ffff" fill="none"/>
<path d="M55.5 222 Q55.5 220.5 57 220.5 H76.5 Q78 220.5 78.5 223 Q83 244 79 265 Q78.5 267.5 76.5 267.5 H57 Q55.5 267.5 55.5 266 Q58.5 244 55.5 222 Z" stroke="#707070" fill="none"/>
<path d="M55 236.5 A12.5 10.5 0 1 0 55 252.5" stroke="#00ffff" stroke-width="2" fill="none"/>
<ellipse cx="44.5" cy="244.5" rx="6" ry="4.5" stroke="#ffff00" fill="#808080"/>
<rect x="63.5" y="221.5" width="4" height="10" stroke="#ffff00" stroke-width="1" fill="none"/>
<rect x="68.5" y="222.5" width="6" height="8" stroke="#ffff00" stroke-width="1" fill="none"/>
<rect x="74.5" y="228.5" width="1" height="2" stroke="#ffff00" stroke-width="1" fill="none"/>
<rect x="59.5" y="234.5" width="5" height="12" stroke="#ffff00" stroke-width="1" fill="#ffff00"/>
<rect x="61" y="236" width="1" height="7.5" stroke="#000" stroke-width="1" fill="#000"/>
<rect x="68.5" y="234.5" width="4" height="2" stroke="#ffff00" stroke-width="1" fill="none"/>
<rect x="304.5" y="389.5" width="72" height="54" stroke="#0000ff" stroke-width="1" fill="none"/>
<line x1="308.5" y1="389.5" x2="308.5" y2="443.5" stroke="#0000ff" stroke-width="1"/>
<rect x="305.5" y="371.5" width="16" height="16" stroke="#00ffff" stroke-width="1" fill="none"/>
<circle cx="313.5" cy="379.5" r="4.2" stroke="#00ffff" stroke-width="1" fill="none"/>
<line x1="307.5" y1="379.5" x2="320.5" y2="379.5" stroke="#00ffff" stroke-width="1"/>
<line x1="313.5" y1="373.5" x2="313.5" y2="387.5" stroke="#00ffff" stroke-width="1"/>
<rect x="312" y="378" width="3" height="3" fill="#00ffff"/>
<rect x="305.5" y="445.5" width="16" height="16" stroke="#0000ff" stroke-width="1" fill="none"/>
<circle cx="313.5" cy="453.5" r="4.2" stroke="#00ffff" stroke-width="1" fill="none"/>
<line x1="307.5" y1="453.5" x2="320.5" y2="453.5" stroke="#00ffff" stroke-width="1"/>
<line x1="313.5" y1="446.5" x2="313.5" y2="459.5" stroke="#00ffff" stroke-width="1"/>
<rect x="312" y="452" width="3" height="3" fill="#00ffff"/>
<rect x="312" y="396.5" width="9" height="19" stroke="#00ffff" stroke-width="1" fill="none"/>
<rect x="312" y="417.5" width="9" height="19" stroke="#00ffff" stroke-width="1" fill="none"/>
<path d="M323.5 443.5 V411.5 C323.5 401.5 326.5 394.5 332.3 389.5" stroke="#00ffff" fill="none"/>
<path d="M326.5 443.5 V411.5 C326.5 401.5 329.5 394.5 339 389.5" stroke="#00ffff" fill="none"/>
<path d="M333 398h2v1h-1v1h-1zM338 398h2v1h-1v1h-1zM342 398h3v1h-1v1h-1v-1h-1zM348 398h3v1h-1v1h-1v-1h-1zM353 398h3v1h-1v1h-1v-1h-1zM358 398h2v2h-1v-1h-1zM364 398h2v2h-1v-1h-1zM370 398h2v2h-1v-1h-1zM333 405h2v1h-1v1h-1zM338 405h2v1h-1v1h-1zM342 405h3v1h-1v1h-1v-1h-1zM348 405h3v1h-1v1h-1v-1h-1zM353 405h3v1h-1v1h-1v-1h-1zM358 405h2v2h-1v-1h-1zM364 405h2v2h-1v-1h-1zM370 405h2v2h-1v-1h-1zM333 413h2v1h-1v1h-1zM338 413h2v1h-1v1h-1zM342 413h3v1h-1v1h-1v-1h-1zM348 413h3v1h-1v1h-1v-1h-1zM353 413h3v1h-1v1h-1v-1h-1zM358 413h2v2h-1v-1h-1zM364 413h2v2h-1v-1h-1zM370 413h2v2h-1v-1h-1zM333 420h2v1h-1v1h-1zM338 420h2v1h-1v1h-1zM342 420h3v1h-1v1h-1v-1h-1zM348 420h3v1h-1v1h-1v-1h-1zM353 420h3v1h-1v1h-1v-1h-1zM358 420h2v2h-1v-1h-1zM364 420h2v2h-1v-1h-1zM370 420h2v2h-1v-1h-1zM333 428h2v1h-1v1h-1zM338 428h2v1h-1v1h-1zM342 428h3v1h-1v1h-1v-1h-1zM348 428h3v1h-1v1h-1v-1h-1zM353 428h3v1h-1v1h-1v-1h-1zM358 428h2v2h-1v-1h-1zM364 428h2v2h-1v-1h-1zM370 428h2v2h-1v-1h-1zM333 435h2v1h-1v1h-1zM338 435h2v1h-1v1h-1zM342 435h3v1h-1v1h-1v-1h-1zM348 435h3v1h-1v1h-1v-1h-1zM353 435h3v1h-1v1h-1v-1h-1zM358 435h2v2h-1v-1h-1zM364 435h2v2h-1v-1h-1zM370 435h2v2h-1v-1h-1z" fill="#00ffff" stroke="none"/>
<rect x="405.5" y="389.5" width="72" height="54" stroke="#0000ff" stroke-width="1" fill="none"/>
<line x1="408.5" y1="389.5" x2="408.5" y2="443.5" stroke="#0000ff" stroke-width="1"/>
<rect x="406.5" y="371.5" width="15" height="16" stroke="#00ffff" stroke-width="1" fill="none"/>
<circle cx="413.5" cy="379.5" r="4.2" stroke="#00ffff" stroke-width="1" fill="none"/>
<line x1="407.5" y1="379.5" x2="420.5" y2="379.5" stroke="#00ffff" stroke-width="1"/>
<line x1="413.5" y1="373.5" x2="413.5" y2="387.5" stroke="#00ffff" stroke-width="1"/>
<rect x="412" y="378" width="3" height="3" fill="#00ffff"/>
<rect x="405.5" y="445.5" width="16" height="16" stroke="#0000ff" stroke-width="1" fill="none"/>
<line x1="406.5" y1="446.5" x2="406.5" y2="460.5" stroke="#00ffff" stroke-width="1"/>
<circle cx="413.5" cy="453.5" r="4.2" stroke="#00ffff" stroke-width="1" fill="none"/>
<line x1="407.5" y1="453.5" x2="420.5" y2="453.5" stroke="#00ffff" stroke-width="1"/>
<line x1="413.5" y1="446.5" x2="413.5" y2="459.5" stroke="#00ffff" stroke-width="1"/>
<rect x="412" y="452" width="3" height="3" fill="#00ffff"/>
<rect x="412" y="396.5" width="9" height="19" stroke="#00ffff" stroke-width="1" fill="none"/>
<rect x="412" y="417.5" width="9" height="19" stroke="#00ffff" stroke-width="1" fill="none"/>
<path d="M423.5 443.5 V411.5 C423.5 401.5 426.5 394.5 432.3 389.5" stroke="#00ffff" fill="none"/>
<path d="M426.5 443.5 V411.5 C426.5 401.5 429.5 394.5 439 389.5" stroke="#00ffff" fill="none"/>
<path d="M433 398h2v1h-1v1h-1zM438 398h2v1h-1v1h-1zM442 398h3v1h-1v1h-1v-1h-1zM448 398h3v1h-1v1h-1v-1h-1zM453 398h3v1h-1v1h-1v-1h-1zM458 398h2v2h-1v-1h-1zM464 398h2v2h-1v-1h-1zM470 398h2v2h-1v-1h-1zM433 405h2v1h-1v1h-1zM438 405h2v1h-1v1h-1zM442 405h3v1h-1v1h-1v-1h-1zM448 405h3v1h-1v1h-1v-1h-1zM453 405h3v1h-1v1h-1v-1h-1zM458 405h2v2h-1v-1h-1zM464 405h2v2h-1v-1h-1zM470 405h2v2h-1v-1h-1zM433 413h2v1h-1v1h-1zM438 413h2v1h-1v1h-1zM442 413h3v1h-1v1h-1v-1h-1zM448 413h3v1h-1v1h-1v-1h-1zM453 413h3v1h-1v1h-1v-1h-1zM458 413h2v2h-1v-1h-1zM464 413h2v2h-1v-1h-1zM470 413h2v2h-1v-1h-1zM433 420h2v1h-1v1h-1zM438 420h2v1h-1v1h-1zM442 420h3v1h-1v1h-1v-1h-1zM448 420h3v1h-1v1h-1v-1h-1zM453 420h3v1h-1v1h-1v-1h-1zM458 420h2v2h-1v-1h-1zM464 420h2v2h-1v-1h-1zM470 420h2v2h-1v-1h-1zM433 428h2v1h-1v1h-1zM438 428h2v1h-1v1h-1zM442 428h3v1h-1v1h-1v-1h-1zM448 428h3v1h-1v1h-1v-1h-1zM453 428h3v1h-1v1h-1v-1h-1zM458 428h2v2h-1v-1h-1zM464 428h2v2h-1v-1h-1zM470 428h2v2h-1v-1h-1zM433 435h2v1h-1v1h-1zM438 435h2v1h-1v1h-1zM442 435h3v1h-1v1h-1v-1h-1zM448 435h3v1h-1v1h-1v-1h-1zM453 435h3v1h-1v1h-1v-1h-1zM458 435h2v2h-1v-1h-1zM464 435h2v2h-1v-1h-1zM470 435h2v2h-1v-1h-1z" fill="#00ffff" stroke="none"/>
<rect x="467.5" y="97.5" width="72" height="54" stroke="#0000ff" stroke-width="1" fill="none"/>
<line x1="470.5" y1="97.5" x2="470.5" y2="151.5" stroke="#0000ff" stroke-width="1"/>
<rect x="468.5" y="79.5" width="15" height="16" stroke="#00ffff" stroke-width="1" fill="none"/>
<circle cx="475.5" cy="87.5" r="4.2" stroke="#00ffff" stroke-width="1" fill="none"/>
<line x1="469.5" y1="87.5" x2="482.5" y2="87.5" stroke="#00ffff" stroke-width="1"/>
<line x1="475.5" y1="81.5" x2="475.5" y2="95.5" stroke="#00ffff" stroke-width="1"/>
<rect x="474" y="86" width="3" height="3" fill="#00ffff"/>
<line x1="467.5" y1="78.5" x2="467.5" y2="97.5" stroke="#0000ff" stroke-width="1"/>
<rect x="467.5" y="152.5" width="16" height="17" stroke="#0000ff" stroke-width="1" fill="none"/>
<rect x="468.5" y="153.5" width="14" height="15" stroke="#00ffff" stroke-width="1" fill="none"/>
<circle cx="475.5" cy="161" r="4.2" stroke="#00ffff" stroke-width="1" fill="none"/>
<line x1="468.5" y1="161" x2="482.5" y2="161" stroke="#00ffff" stroke-width="1"/>
<line x1="475.5" y1="154" x2="475.5" y2="168" stroke="#00ffff" stroke-width="1"/>
<rect x="474" y="159.5" width="3" height="3" fill="#00ffff"/>
<rect x="474" y="104.5" width="9" height="19" stroke="#00ffff" stroke-width="1" fill="none"/>
<rect x="474" y="125.5" width="9" height="19" stroke="#00ffff" stroke-width="1" fill="none"/>
<path d="M485.5 151.5 V119.5 C485.5 109.5 488.5 102.5 494.3 97.5" stroke="#00ffff" fill="none"/>
<path d="M488.5 151.5 V119.5 C488.5 109.5 491.5 102.5 501 97.5" stroke="#00ffff" fill="none"/>
<path d="M495 106h2v1h-1v1h-1zM500 106h2v1h-1v1h-1zM504 106h3v1h-1v1h-1v-1h-1zM510 106h3v1h-1v1h-1v-1h-1zM515 106h3v1h-1v1h-1v-1h-1zM520 106h2v2h-1v-1h-1zM526 106h2v2h-1v-1h-1zM532 106h2v2h-1v-1h-1zM495 113h2v1h-1v1h-1zM500 113h2v1h-1v1h-1zM504 113h3v1h-1v1h-1v-1h-1zM510 113h3v1h-1v1h-1v-1h-1zM515 113h3v1h-1v1h-1v-1h-1zM520 113h2v2h-1v-1h-1zM526 113h2v2h-1v-1h-1zM532 113h2v2h-1v-1h-1zM495 121h2v1h-1v1h-1zM500 121h2v1h-1v1h-1zM504 121h3v1h-1v1h-1v-1h-1zM510 121h3v1h-1v1h-1v-1h-1zM515 121h3v1h-1v1h-1v-1h-1zM520 121h2v2h-1v-1h-1zM526 121h2v2h-1v-1h-1zM532 121h2v2h-1v-1h-1zM495 128h2v1h-1v1h-1zM500 128h2v1h-1v1h-1zM504 128h3v1h-1v1h-1v-1h-1zM510 128h3v1h-1v1h-1v-1h-1zM515 128h3v1h-1v1h-1v-1h-1zM520 128h2v2h-1v-1h-1zM526 128h2v2h-1v-1h-1zM532 128h2v2h-1v-1h-1zM495 136h2v1h-1v1h-1zM500 136h2v1h-1v1h-1zM504 136h3v1h-1v1h-1v-1h-1zM510 136h3v1h-1v1h-1v-1h-1zM515 136h3v1h-1v1h-1v-1h-1zM520 136h2v2h-1v-1h-1zM526 136h2v2h-1v-1h-1zM532 136h2v2h-1v-1h-1zM495 143h2v1h-1v1h-1zM500 143h2v1h-1v1h-1zM504 143h3v1h-1v1h-1v-1h-1zM510 143h3v1h-1v1h-1v-1h-1zM515 143h3v1h-1v1h-1v-1h-1zM520 143h2v2h-1v-1h-1zM526 143h2v2h-1v-1h-1zM532 143h2v2h-1v-1h-1z" fill="#00ffff" stroke="none"/>
<rect x="556.5" y="266.5" width="72" height="54" stroke="#00ffff" stroke-width="1" fill="none"/>
<line x1="557" y1="271.5" x2="617" y2="271.5" stroke="#0000ff" stroke-width="1"/>
<line x1="557" y1="273.5" x2="617" y2="273.5" stroke="#0000ff" stroke-width="1"/>
<line x1="557" y1="284.5" x2="617" y2="284.5" stroke="#0000ff" stroke-width="1"/>
<line x1="557" y1="286.5" x2="617" y2="286.5" stroke="#0000ff" stroke-width="1"/>
<ellipse cx="564.5" cy="279" rx="4.6" ry="5.5" stroke="#0000ff" fill="none"/>
<ellipse cx="569.8" cy="279" rx="4.6" ry="5.5" stroke="#0000ff" fill="none"/>
<ellipse cx="575.1" cy="279" rx="4.6" ry="5.5" stroke="#0000ff" fill="none"/>
<ellipse cx="580.4" cy="279" rx="4.6" ry="5.5" stroke="#0000ff" fill="none"/>
<ellipse cx="585.7" cy="279" rx="4.6" ry="5.5" stroke="#0000ff" fill="none"/>
<ellipse cx="591" cy="279" rx="4.6" ry="5.5" stroke="#0000ff" fill="none"/>
<ellipse cx="596.3" cy="279" rx="4.6" ry="5.5" stroke="#0000ff" fill="none"/>
<ellipse cx="601.6" cy="279" rx="4.6" ry="5.5" stroke="#0000ff" fill="none"/>
<ellipse cx="606.9" cy="279" rx="4.6" ry="5.5" stroke="#0000ff" fill="none"/>
<ellipse cx="612.2" cy="279" rx="4.6" ry="5.5" stroke="#0000ff" fill="none"/>
<line x1="557" y1="301.5" x2="617" y2="301.5" stroke="#0000ff" stroke-width="1"/>
<line x1="557" y1="303.5" x2="617" y2="303.5" stroke="#0000ff" stroke-width="1"/>
<line x1="557" y1="314.5" x2="617" y2="314.5" stroke="#0000ff" stroke-width="1"/>
<line x1="557" y1="316.5" x2="617" y2="316.5" stroke="#0000ff" stroke-width="1"/>
<ellipse cx="564.5" cy="309" rx="4.6" ry="5.5" stroke="#0000ff" fill="none"/>
<ellipse cx="569.8" cy="309" rx="4.6" ry="5.5" stroke="#0000ff" fill="none"/>
<ellipse cx="575.1" cy="309" rx="4.6" ry="5.5" stroke="#0000ff" fill="none"/>
<ellipse cx="580.4" cy="309" rx="4.6" ry="5.5" stroke="#0000ff" fill="none"/>
<ellipse cx="585.7" cy="309" rx="4.6" ry="5.5" stroke="#0000ff" fill="none"/>
<ellipse cx="591" cy="309" rx="4.6" ry="5.5" stroke="#0000ff" fill="none"/>
<ellipse cx="596.3" cy="309" rx="4.6" ry="5.5" stroke="#0000ff" fill="none"/>
<ellipse cx="601.6" cy="309" rx="4.6" ry="5.5" stroke="#0000ff" fill="none"/>
<ellipse cx="606.9" cy="309" rx="4.6" ry="5.5" stroke="#0000ff" fill="none"/>
<ellipse cx="612.2" cy="309" rx="4.6" ry="5.5" stroke="#0000ff" fill="none"/>
<path d="M628.5 269.5 L617.5 269.5 L617.5 288.5 L628.5 288.5" stroke="#ffff00" stroke-width="1" fill="none" />
<path d="M628.5 299.5 L617.5 299.5 L617.5 318.5 L628.5 318.5" stroke="#ffff00" stroke-width="1" fill="none" />
<rect x="241.5" y="369.5" width="20" height="18" stroke="#00ff00" stroke-width="1" fill="none"/>
<rect x="243" y="371" width="17" height="12.5" stroke="#00ff00" stroke-width="2" fill="none"/>
<line x1="251.5" y1="377" x2="251.5" y2="387" stroke="#00ff00" stroke-width="2"/>
<circle cx="251.5" cy="377.5" r="1.5" stroke="#00ff00" stroke-width="1" fill="none"/>
<line x1="246" y1="385.5" x2="258" y2="385.5" stroke="#00ff00" stroke-width="2"/>
<rect x="242.5" y="440" width="5.5" height="18" stroke="#00ffff" stroke-width="2" fill="none"/>
<path d="M249.2 445.8 L253.7 443.5 L257.9 442.9 L263.6 441.6 L268.1 444.5 L272.9 448.3 L271.3 450.6 L265.6 455.4 L258.5 454.4 L254 453.8 L249.2 453.2" stroke="#00ffff" fill="none"/>
<path d="M256.5 443.5 Q253 448.5 256.5 453.5" stroke="#00ffff" fill="none"/>
<path d="M264 442.5 L268 446 M258.5 455 L264.5 455.5" stroke="#00ffff" fill="none"/>
<rect x="553" y="370.5" width="17" height="13" stroke="#00ff00" stroke-width="2" fill="none"/>
<line x1="551" y1="386" x2="571" y2="386" stroke="#00ff00" stroke-width="2"/>
<line x1="560.8" y1="376.5" x2="560.8" y2="386.5" stroke="#00ff00" stroke-width="2"/>
<circle cx="560.8" cy="376.5" r="1.5" stroke="#00ff00" stroke-width="1" fill="none"/>
<rect x="551.5" y="416.5" width="25" height="56" stroke="#0000ff" stroke-width="1" fill="none"/>
<line x1="553.5" y1="417" x2="553.5" y2="472" stroke="#0000ff" stroke-width="2"/>
<path d="M554.5 420.5 H573.5 V459 L569.5 465.5 H558.5 L554.5 459 Z" stroke="#0000ff" fill="none"/>
<path d="M553.5 463 L559 468.5 H569.5 L574.5 463" stroke="#0000ff" fill="none"/>
<line x1="555.5" y1="426" x2="555.5" y2="443" stroke="#0000ff" stroke-width="2"/>
<line x1="561.5" y1="418.5" x2="566.5" y2="418.5" stroke="#0000ff" stroke-width="2"/>
<rect x="563" y="422" width="2" height="2" fill="#0000ff"/>
<rect x="604" y="464.5" width="18" height="6" stroke="#00ffff" stroke-width="2" fill="none"/>
<path d="M609.4 463.5 L608.2 458.9 L607.9 455.1 L606.3 451.3 L605.6 448.2 L612.4 441.4 L615.1 441.4 L620.5 448.2 L619.7 451.3 L618.2 455.1 L618.2 458.9 L617 463.5" stroke="#00ffff" fill="none"/>
<path d="M607 449 L613 442.5 L614.5 442.5 L619.5 449" stroke="#00ffff" fill="none"/>
<path d="M608.6 456.6 L609.8 458.6 L615.9 458.6 L617 456.6" stroke="#00ffff" fill="none"/>
</g>
</svg>
</body></html>
